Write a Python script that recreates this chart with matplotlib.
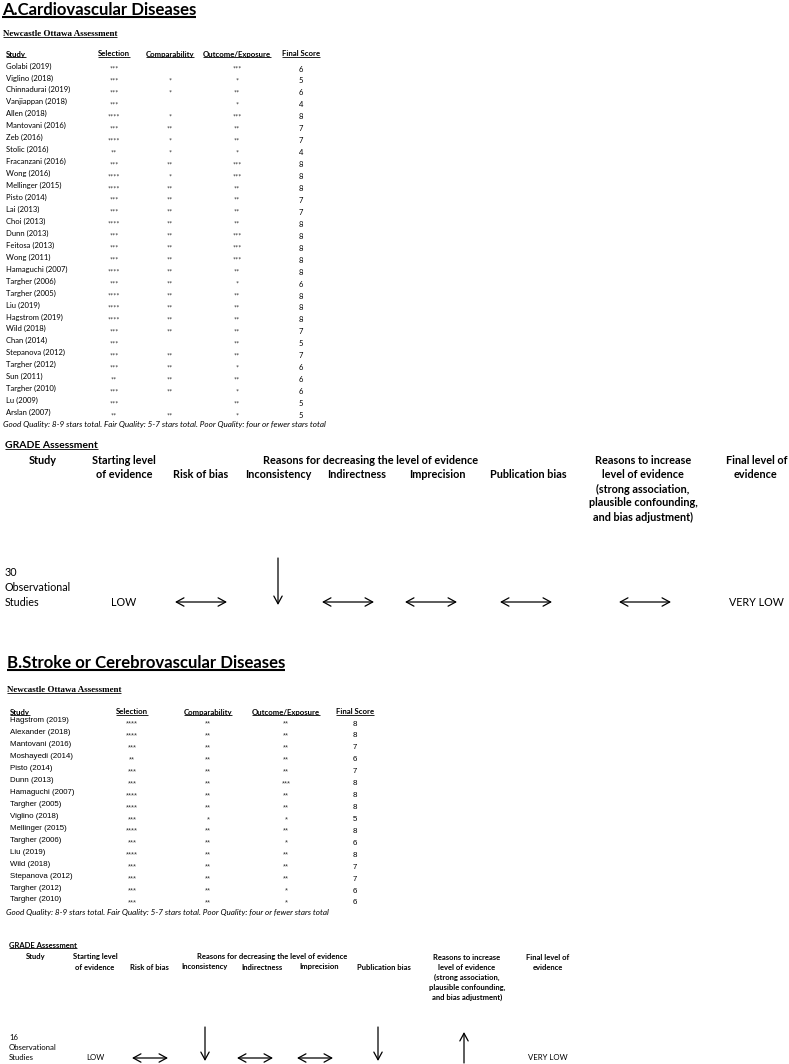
import matplotlib
matplotlib.use("Agg")
import matplotlib.pyplot as plt

# ---------------- data ----------------
studies_a = ["Golabi (2019)", "Viglino (2018)", "Chinnadurai (2019)", "Vanjiappan (2018)", "Allen (2018)",
             "Mantovani (2016)", "Zeb (2016)", "Stolic (2016)", "Fracanzani (2016)", "Wong (2016)",
             "Mellinger (2015)", "Pisto (2014)", "Lai (2013)", "Choi (2013)", "Dunn (2013)",
             "Feitosa (2013)", "Wong (2011)", "Hamaguchi (2007)", "Targher (2006)", "Targher (2005)",
             "Liu (2019)", "Hagstrom (2019)", "Wild (2018)", "Chan (2014)", "Stepanova (2012)",
             "Targher (2012)", "Sun (2011)", "Targher (2010)", "Lu (2009)", "Arslan (2007)"]
selection_a = ["***", "***", "***", "***", "****", "***", "****", "**", "***", "****",
               "****", "***", "***", "****", "***", "***", "***", "****", "***", "****",
               "****", "****", "***", "***", "***", "***", "**", "***", "***", "**"]
comparability_a = ["", "*", "*", "", "*", "**", "*", "*", "**", "*",
                   "**", "**", "**", "**", "**", "**", "**", "**", "**", "**",
                   "**", "**", "**", "", "**", "**", "**", "**", "", "**"]
outcome_a = ["***", "*", "**", "*", "***", "**", "**", "*", "***", "***",
             "**", "**", "**", "**", "***", "***", "***", "**", "*", "**",
             "**", "**", "**", "**", "**", "*", "**", "*", "**", "*"]
score_a = [6, 5, 6, 4, 8, 7, 7, 4, 8, 8, 8, 7, 7, 8, 8, 8, 8, 8, 6, 8, 8, 8, 7, 5, 7, 6, 6, 6, 5, 5]

studies_b = ["Hagstrom (2019)", "Alexander (2018)", "Mantovani (2016)", "Moshayedi (2014)", "Pisto (2014)",
             "Dunn (2013)", "Hamaguchi (2007)", "Targher (2005)", "Viglino (2018)", "Mellinger (2015)",
             "Targher (2006)", "Liu (2019)", "Wild (2018)", "Stepanova (2012)", "Targher (2012)",
             "Targher (2010)"]
selection_b = ["****", "****", "***", "**", "***", "***", "****", "****", "***", "****",
               "***", "****", "***", "***", "***", "***"]
comparability_b = ["**", "**", "**", "**", "**", "**", "**", "**", "*", "**",
                   "**", "**", "**", "**", "**", "**"]
outcome_b = ["**", "**", "**", "**", "**", "***", "**", "**", "*", "**",
             "*", "**", "**", "**", "*", "*"]
score_b = [8, 8, 7, 6, 7, 8, 8, 8, 5, 8, 6, 8, 7, 7, 6, 6]

nos_headers = ["Study", "Selection", "Comparability", "Outcome/Exposure", "Final Score"]
footnote = "Good Quality: 8-9 stars total. Fair Quality: 5-7 stars total. Poor Quality: four or fewer stars total"

grade_top = ["Study", "Starting level", "Reasons for decreasing the level of evidence",
             "Reasons to increase", "Final level of"]
grade_sub = ["of evidence", "Risk of bias", "Inconsistency", "Indirectness", "Imprecision",
             "Publication bias", "level of evidence", "evidence"]
increase_extra = ["(strong association,", "plausible confounding,", "and bias adjustment)"]
grade_a_count, grade_b_count = "30", "16"
grade_a_marks = ["both", "down", "both", "both", "both", "both"]   # risk, incons, indir, imprec, pub, increase
grade_b_marks = ["both", "down", "both", "both", "down", "up"]
start_level, final_level = "LOW", "VERY LOW"

# ---------------- layout ----------------
CAL = ["Lato", "DejaVu Sans"]
SERIF = ["Liberation Serif", "DejaVu Serif"]
ARIAL = ["Liberation Sans", "DejaVu Sans"]

fig = plt.figure(figsize=(7.89, 10.64), dpi=100)
fig.patch.set_facecolor("white")
ax = fig.add_axes([0, 0, 1, 1])
ax.set_xlim(0, 789)
ax.set_ylim(1064, 0)
ax.axis("off")
R = fig.canvas.get_renderer()
INV = ax.transData.inverted()


def fit(txt, width, **kw):
    t = ax.text(0, 0, txt, fontsize=10, **kw)
    w = t.get_window_extent(R).width
    t.remove()
    return 10.0 * width / w


def put(x, y, txt, size, ha="left", underline=False, ulw=0.6, udy=0.0, color="black", **kw):
    t = ax.text(x, y, txt, fontsize=size, ha=ha, va="center", color=color, **kw)
    if underline:
        bb = t.get_window_extent(R)
        (x0, yb), (x1, yt) = INV.transform([(bb.x0, bb.y0), (bb.x1, bb.y1)])
        ax.plot([x0, x1], [yb + udy, yb + udy], color="black", lw=ulw, solid_capstyle="butt")
    return t


def harrow(x0, x1, y, hl=0.55, hw=0.3, lw=0.9):
    ax.annotate("", xy=(x1, y), xytext=(x0, y),
                arrowprops=dict(arrowstyle=f"<->,head_length={hl},head_width={hw}",
                                lw=lw, color="black", shrinkA=0, shrinkB=0))


def varrow(x, y_from, y_to, hl=0.55, hw=0.3, lw=0.9):
    ax.annotate("", xy=(x, y_to), xytext=(x, y_from),
                arrowprops=dict(arrowstyle=f"->,head_length={hl},head_width={hw}",
                                lw=lw, color="black", shrinkA=0, shrinkB=0))


# font sizes fitted to measured widths
s_title = fit("A.Cardiovascular Diseases", 196, family=CAL, weight="bold")
s_noa = fit("Newcastle Ottawa Assessment", 116, family=SERIF, weight="bold")
s_hdr_a = fit("Outcome/Exposure", 68, family=CAL, weight="bold")
s_row_a = fit("Chinnadurai (2019)", 64, family=CAL)
s_row_b = fit("Alexander (2018)", 61, family=ARIAL)
s_foot = fit(footnote, 322, family=CAL, style="italic")
s_glab_a = fit("GRADE Assessment", 93, family=CAL, weight="bold")
s_ghdr_a = fit("Publication bias", 76, family=CAL, weight="bold")
s_grow_a = fit("Observational", 66, family=CAL)
s_glab_b = fit("GRADE Assessment", 68, family=CAL, weight="bold")
s_ghdr_b = fit("Publication bias", 54, family=CAL, weight="bold")
s_grow_b = fit("Observational", 48, family=CAL)


def nos_table(title, tx, ty, noa_y, hdr_y, col_x, name_x, row0, step,
              names, sel, comp, out, score, row_family, row_size, foot_x, foot_y):
    put(tx, ty, title, s_title, family=CAL, weight="bold", underline=True, ulw=1.5, udy=-1)
    put(name_x - 3, noa_y, "Newcastle Ottawa Assessment", s_noa, family=SERIF, weight="bold",
        underline=True, ulw=0.6, udy=-1.5)
    put(name_x, hdr_y, nos_headers[0], s_hdr_a, family=CAL, weight="bold", underline=True, udy=-1)
    for h, cx in zip(nos_headers[1:], col_x):
        put(cx, hdr_y, h, s_hdr_a, ha="center", family=CAL, weight="bold", underline=True, udy=-1)
    for i, nm in enumerate(names):
        y = row0 + i * step
        put(name_x, y, nm, row_size, family=row_family)
        for vals, cx in zip((sel, comp, out), col_x[:3]):
            if vals[i]:
                put(cx, y + 3, vals[i], row_size * 0.95, ha="center", family=row_family, color="#333333")
        put(col_x[3], y + 3, str(score[i]), row_size, ha="center", family=row_family)
    put(foot_x, foot_y, footnote, s_foot, family=CAL, style="italic")


def grade_block(lab_x, lab_y, lab_size, hdr_size, row_size, top_y, dy, top_x, sub_x,
                row_y, row_dy, count, marks, arrow_x, arrow_half, vtop):
    put(lab_x, lab_y, "GRADE Assessment", lab_size, family=CAL, weight="bold", underline=True, udy=-1)
    for txt, cx in zip(grade_top, top_x):
        put(cx, top_y, txt, hdr_size, ha="center", family=CAL, weight="bold")
    for txt, cx in zip(grade_sub, sub_x):
        put(cx, top_y + dy, txt, hdr_size, ha="center", family=CAL, weight="bold")
    for k, txt in enumerate(increase_extra):
        put(top_x[3], top_y + dy * (k + 2), txt, hdr_size, ha="center", family=CAL, weight="bold")
    ys = row_y
    put(lab_x, ys - 2 * row_dy, count, row_size, family=CAL)
    put(lab_x, ys - row_dy, "Observational", row_size, family=CAL)
    put(lab_x, ys, "Studies", row_size, family=CAL)
    put(sub_x[0], ys, start_level, row_size, ha="center", family=CAL)
    put(sub_x[-1], ys, final_level, row_size, ha="center", family=CAL)
    for m, cx in zip(marks, arrow_x):
        if m == "both":
            harrow(cx - arrow_half, cx + arrow_half, ys)
        elif m == "down":
            varrow(cx, vtop, ys + 3)
        elif m == "up":
            varrow(cx, ys + 5, vtop + 5)


# ---- Section A ----
nos_table("A.Cardiovascular Diseases", 2, 10, 34, 54, [114, 170, 237, 301], 6, 66, 11.95,
          studies_a, selection_a, comparability_a, outcome_a, score_a, CAL, s_row_a, 3, 424)
grade_block(5, 445, s_glab_a, s_ghdr_a, s_grow_a, 461, 14,
            [43, 124, 371, 643, 757],
            [124, 201, 278, 357, 437, 528, 643, 756],
            602, 14.5, grade_a_count, grade_a_marks,
            [201, 278, 348, 431, 526, 645], 26, 558)

# ---- Section B ----
nos_table("B.Stroke or Cerebrovascular Diseases", 7, 663, 690, 712, [132, 208, 286, 355], 10, 721, 11.93,
          studies_b, selection_b, comparability_b, outcome_b, score_b, ARIAL, s_row_b, 6, 912)
grade_block(9, 945, s_glab_b, s_ghdr_b, s_grow_b, 957, 10,
            [36, 95, 272, 467, 548],
            [95, 149, 205, 262, 319, 384, 467, 548],
            1058, 10.5, grade_b_count, grade_b_marks,
            [150, 205, 255, 315, 378, 464], 18, 1027)

fig.savefig("out.png", dpi=100, facecolor="white")
